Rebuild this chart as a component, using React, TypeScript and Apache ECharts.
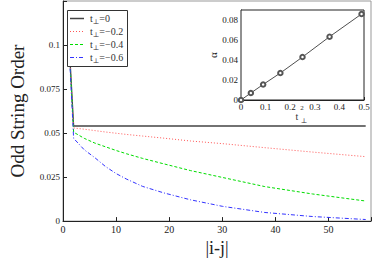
import React, { useEffect, useRef } from "react";
import * as echarts from "echarts";

// Main plot data: odd string order vs |i-j|
const distances = [1, 2, 4, 6, 8, 10, 12, 15, 19, 24, 30, 38, 47, 57];
const orderT0 = [0.109, 0.054, 0.054, 0.054, 0.054, 0.054, 0.054, 0.054, 0.054, 0.054, 0.054, 0.054, 0.054, 0.054];
const orderT02 = [0.109, 0.0529, 0.0522, 0.0514, 0.0506, 0.0499, 0.0492, 0.0483, 0.0471, 0.0455, 0.044, 0.0417, 0.0392, 0.0366];
const orderT04 = [0.109, 0.0505, 0.047, 0.0443, 0.0422, 0.0401, 0.0382, 0.0356, 0.0325, 0.0287, 0.0248, 0.0196, 0.0154, 0.0114];
const orderT06 = [0.107, 0.047, 0.0405, 0.036, 0.031, 0.027, 0.0238, 0.0197, 0.016, 0.0121, 0.0084, 0.0049, 0.0026, 0.0009];

const legendValues = ["0", "\u22120.2", "\u22120.4", "\u22120.6"];
const seriesColors = ["#444444", "#ff5555", "#00dd00", "#3333ff"];
const seriesDashes: (number[] | null)[] = [null, [1, 2], [3, 2], [4, 2, 1, 2]];

// Inset data: alpha vs t_perp^2
const insetT2 = [0, 0.04, 0.09, 0.16, 0.25, 0.36, 0.49];
const insetAlpha = [0, 0.007, 0.0155, 0.027, 0.043, 0.0633, 0.086];

const SERIF = "'Liberation Serif', 'DejaVu Serif', serif";

function fmt(v: number) {
  return String(parseFloat(v.toFixed(4)));
}

export default function App() {
  const ref = useRef<HTMLDivElement>(null);
  useEffect(() => {
    if (!ref.current) return;
    const chart = echarts.init(ref.current, null, { renderer: "svg" });
    const allSeries = [orderT0, orderT02, orderT04, orderT06];

    const legendGraphics: any[] = [
      {
        type: "rect",
        shape: { x: 67.5, y: 10.5, width: 60, height: 56 },
        style: { fill: "#fff", stroke: "#333", lineWidth: 1 },
        z: 100,
      },
    ];
    legendValues.forEach((lv, i) => {
      const y = 18.5 + 13 * i;
      legendGraphics.push({
        type: "line",
        shape: { x1: 70, y1: y, x2: 84, y2: y },
        style: {
          stroke: seriesColors[i],
          lineWidth: i === 0 ? 1.5 : 1,
          lineDash: seriesDashes[i] || null,
        },
        z: 101,
      });
      legendGraphics.push({
        type: "text",
        x: 90,
        y: y,
        style: {
          text: `{t|t}{s|\u22a5}{t|=${lv}}`,
          verticalAlign: "middle",
          rich: {
            t: { fontFamily: SERIF, fontSize: 10, fill: "#333" },
            s: { fontFamily: SERIF, fontSize: 7, fill: "#333", padding: [6, 0, 0, 0] },
          },
        },
        z: 101,
      });
    });

    const insetLabel: any[] = [
      { type: "text", x: 297, y: 116, style: { text: "t", fontFamily: SERIF, fontSize: 10, fill: "#333", align: "center", verticalAlign: "middle" }, z: 101 },
      { type: "text", x: 302, y: 108, style: { text: "2", fontFamily: SERIF, fontSize: 7, fill: "#333", align: "center", verticalAlign: "middle" }, z: 101 },
      { type: "text", x: 304, y: 121, style: { text: "\u22a5", fontFamily: SERIF, fontSize: 7, fill: "#333", align: "center", verticalAlign: "middle" }, z: 101 },
    ];

    chart.setOption({
      animation: false,
      backgroundColor: "#fff",
      grid: [
        { left: 44, top: 1, width: 329, height: 229, show: true, borderColor: "#999", borderWidth: 1 },
        { left: 241, top: 10, width: 123, height: 90, show: true, borderColor: "#222", borderWidth: 1, backgroundColor: "#fff", z: 50 },
      ],
      xAxis: [
        {
          type: "value",
          gridIndex: 0,
          min: 0,
          max: 58,
          interval: 10,
          name: "|i-j|",
          nameLocation: "middle",
          nameGap: 10,
          nameTextStyle: { fontFamily: SERIF, fontSize: 18, color: "#222", verticalAlign: "top" },
          axisLine: { lineStyle: { color: "#222" } },
          axisTick: { inside: true, length: 4, lineStyle: { color: "#222" } },
          axisLabel: {
            fontFamily: SERIF,
            fontSize: 10,
            color: "#222",
            margin: 3,
            formatter: (v: number) => (v > 55 ? "" : fmt(v)),
          },
          splitLine: { show: false },
        },
        {
          type: "value",
          gridIndex: 1,
          min: 0,
          max: 0.5,
          interval: 0.1,
          axisLine: { lineStyle: { color: "#222" } },
          axisTick: { inside: true, length: 3, lineStyle: { color: "#222" } },
          axisLabel: { fontFamily: SERIF, fontSize: 9, color: "#222", margin: 2, formatter: (v: number) => fmt(v) },
          splitLine: { show: false },
        },
      ],
      yAxis: [
        {
          type: "value",
          gridIndex: 0,
          min: 0,
          max: 0.125,
          interval: 0.025,
          name: "Odd String Order",
          nameLocation: "middle",
          nameGap: 36,
          nameTextStyle: { fontFamily: SERIF, fontSize: 19, color: "#222" },
          axisLine: { lineStyle: { color: "#222" } },
          axisTick: { inside: true, length: 4, lineStyle: { color: "#222" } },
          axisLabel: {
            fontFamily: SERIF,
            fontSize: 9,
            color: "#222",
            margin: 3,
            formatter: (v: number) => (v > 0.12 ? "" : fmt(v)),
          },
          splitLine: { show: false },
        },
        {
          type: "value",
          gridIndex: 1,
          min: 0,
          max: 0.09,
          interval: 0.02,
          name: "\u03b1",
          nameLocation: "middle",
          nameGap: 22,
          nameTextStyle: { fontFamily: SERIF, fontSize: 11, color: "#222" },
          axisLine: { lineStyle: { color: "#222" } },
          axisTick: { inside: true, length: 3, lineStyle: { color: "#222" } },
          axisLabel: {
            fontFamily: SERIF,
            fontSize: 9,
            color: "#222",
            margin: 3,
            formatter: (v: number) => (v > 0.085 ? "" : fmt(v)),
          },
          splitLine: { show: false },
        },
      ],
      series: [
        ...allSeries.map((vals, i) => ({
          type: "line",
          xAxisIndex: 0,
          yAxisIndex: 0,
          showSymbol: false,
          symbol: "none",
          z: 2 + i,
          data: distances.map((d, k) => [d, vals[k]]),
          lineStyle: {
            color: seriesColors[i],
            width: i === 0 ? 1.3 : 1,
            type: seriesDashes[i] || "solid",
          },
        })),
        {
          type: "line",
          xAxisIndex: 1,
          yAxisIndex: 1,
          z: 60,
          data: insetT2.map((x, k) => [x, insetAlpha[k]]),
          symbol: "emptyCircle",
          symbolSize: 4.5,
          itemStyle: { color: "#555", borderColor: "#555", borderWidth: 0.6 },
          lineStyle: { color: "#222", width: 0.8 },
        },
      ],
      graphic: [...legendGraphics, ...insetLabel],
    });
    return () => chart.dispose();
  }, []);
  return <div ref={ref} style={{ position: "fixed", left: 0, top: 0, width: 374, height: 262 }} />;
}
